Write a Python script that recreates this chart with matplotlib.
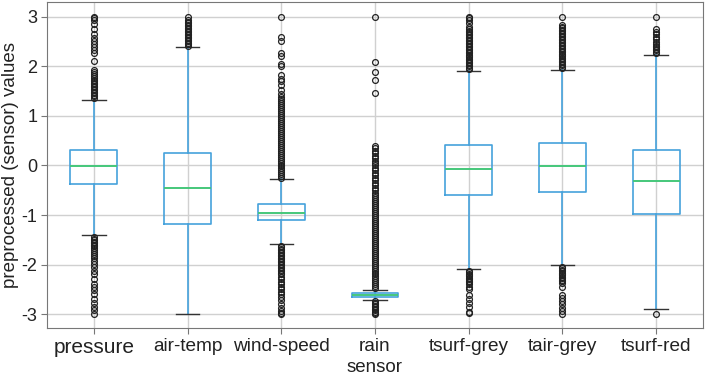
import matplotlib
matplotlib.use("Agg")
import matplotlib.pyplot as plt

plt.rcParams['font.family'] = ['Liberation Sans', 'DejaVu Sans']

sensors = ["pressure", "air-temp", "wind-speed", "rain", "tsurf-grey", "tair-grey", "tsurf-red"]
q1 = [-0.37, -1.18, -1.10, -2.65, -0.60, -0.54, -0.98]
median = [-0.02, -0.46, -0.955, -2.62, -0.07, -0.02, -0.31]
q3 = [0.32, 0.26, -0.77, -2.58, 0.41, 0.45, 0.31]
whisker_low = [-1.41, -3.0, -1.59, -2.71, -2.09, -2.01, -2.90]
whisker_high = [1.32, 2.39, -0.28, -2.52, 1.91, 1.93, 2.24]

fliers_pressure = [1.37, 1.40, 1.43, 1.46, 1.49, 1.52, 1.55, 1.58, 1.61, 1.64, 1.67, 1.70, 1.73, 1.76, 1.80, 1.84,
                   1.88, 1.93, 2.10, 2.28, 2.33, 2.40, 2.45, 2.52, 2.58, 2.65, 2.75, 2.85, 2.93, 2.97, 3.0,
                   -1.45, -1.48, -1.51, -1.54, -1.57, -1.60, -1.63, -1.66, -1.70, -1.74, -1.78, -1.82, -1.86,
                   -1.92, -1.98, -2.05, -2.12, -2.20, -2.30, -2.40, -2.45, -2.52, -2.60, -2.70, -2.78, -2.85,
                   -2.92, -3.0]
fliers_airtemp = [2.42, 2.45, 2.48, 2.51, 2.54, 2.57, 2.60, 2.63, 2.66, 2.69, 2.72, 2.75, 2.78, 2.81, 2.84,
                  2.87, 2.90, 2.93, 3.0]
fliers_windspeed = [-0.26, -0.22, -0.18, -0.14, -0.10, -0.06, -0.02, 0.02, 0.06, 0.10, 0.14, 0.18, 0.22, 0.26,
                    0.30, 0.34, 0.38, 0.42, 0.46, 0.50, 0.54, 0.58, 0.62, 0.66, 0.70, 0.74, 0.78, 0.82, 0.86,
                    0.90, 0.94, 0.98, 1.02, 1.06, 1.10, 1.14, 1.18, 1.22, 1.26, 1.30, 1.34, 1.38, 1.45, 1.52,
                    1.62, 1.70, 1.75, 1.82, 2.00, 2.05, 2.20, 2.28, 2.52, 2.60, 3.0,
                    -1.62, -1.65, -1.68, -1.71, -1.74, -1.77, -1.80, -1.83, -1.86, -1.89, -1.92, -1.95, -1.98,
                    -2.01, -2.04, -2.07, -2.10, -2.13, -2.16, -2.20, -2.25, -2.30, -2.35, -2.40, -2.45, -2.50,
                    -2.55, -2.60, -2.65, -2.72, -2.80, -2.88, -2.94, -2.98, -3.0]
fliers_rain = [-2.48, -2.44, -2.40, -2.36, -2.32, -2.28, -2.24, -2.20, -2.16, -2.12, -2.08, -2.04, -2.00, -1.96,
               -1.92, -1.88, -1.84, -1.80, -1.76, -1.72, -1.68, -1.64, -1.60, -1.56, -1.52, -1.48, -1.44, -1.40,
               -1.36, -1.32, -1.28, -1.24, -1.20, -1.16, -1.12, -1.08, -1.04, -1.00, -0.96, -0.92, -0.88, -0.84,
               -0.80, -0.76, -0.72, -0.68, -0.64, -0.60, -0.55, -0.50, -0.45, -0.40, -0.35, -0.30, -0.25,
               -0.20, -0.15, -0.10, -0.05, 0.00, 0.05, 0.10, 0.15, 0.20, 0.25, 0.30, 0.35, 0.40,
               1.47, 1.72, 1.88, 2.09, 3.0,
               -2.74, -2.77, -2.80, -2.83, -2.86, -2.89, -2.92, -2.95, -2.98, -3.0]
fliers_tsurfgrey = [1.94, 1.97, 2.00, 2.03, 2.06, 2.09, 2.12, 2.15, 2.18, 2.21, 2.24, 2.27, 2.30, 2.33, 2.36,
                    2.39, 2.42, 2.45, 2.48, 2.51, 2.54, 2.57, 2.60, 2.63, 2.66, 2.69, 2.72, 2.75, 2.80, 2.87,
                    2.93, 2.97, 3.0,
                    -2.12, -2.15, -2.18, -2.21, -2.24, -2.27, -2.30, -2.33, -2.36, -2.40, -2.45, -2.50,
                    -2.62, -2.70, -2.78, -2.85, -2.95, -2.98]
fliers_tairgrey = [1.96, 1.99, 2.02, 2.05, 2.08, 2.11, 2.14, 2.17, 2.20, 2.23, 2.26, 2.29, 2.32, 2.35, 2.38,
                   2.41, 2.44, 2.47, 2.50, 2.53, 2.56, 2.59, 2.62, 2.65, 2.68, 2.71, 2.74, 2.77, 2.80, 2.83, 3.0,
                   -2.04, -2.07, -2.10, -2.13, -2.16, -2.19, -2.22, -2.25, -2.28, -2.31, -2.34, -2.38, -2.45,
                   -2.62, -2.68, -2.74, -2.80, -2.87, -2.94, -3.0]
fliers_tsurfred = [2.27, 2.30, 2.33, 2.36, 2.39, 2.42, 2.46, 2.50, 2.55, 2.60, 2.65, 2.70, 2.75, 3.0, -3.0]

fliers = [fliers_pressure, fliers_airtemp, fliers_windspeed, fliers_rain,
          fliers_tsurfgrey, fliers_tairgrey, fliers_tsurfred]

stats = []
for i, name in enumerate(sensors):
    stats.append(dict(label=name, q1=q1[i], med=median[i], q3=q3[i],
                      whislo=whisker_low[i], whishi=whisker_high[i], fliers=fliers[i]))

fig = plt.figure(figsize=(7.06, 3.78), dpi=100)
ax = fig.add_axes([47/706, 1 - 328/378, (703 - 47)/706, (328 - 2)/378])

blue = '#45a2dc'
green = '#45c77a'
ax.bxp(stats, positions=list(range(1, len(sensors) + 1)), widths=0.5,
       boxprops=dict(color=blue, linewidth=1.2),
       whiskerprops=dict(color=blue, linewidth=1.2),
       capprops=dict(color='#333333', linewidth=1.0),
       medianprops=dict(color=green, linewidth=1.4),
       flierprops=dict(marker='o', markerfacecolor='none', markeredgecolor='#222222',
                       markersize=4.2, markeredgewidth=0.9))

ax.set_ylim(-3.28, 3.3)
ax.set_xlim(0.5, 7.5)
ax.set_yticks([-3, -2, -1, 0, 1, 2, 3])
ax.set_yticklabels(['-3', '-2', '-1', '0', '1', '2', '3'], fontsize=13)
ax.set_xticks(list(range(1, len(sensors) + 1)))
ax.set_xticklabels(sensors, fontsize=13.7)
ax.get_xticklabels()[0].set_fontsize(15)
ax.grid(True, color='#d0d0d0', linewidth=1.0)
ax.set_axisbelow(True)
for s in ax.spines.values():
    s.set_color('#777777')
ax.tick_params(axis='both', colors='#777777', labelcolor='#222222', length=4, pad=3)
ax.set_xlabel('sensor', fontsize=13.5, color='#222222', labelpad=2)
ax.set_ylabel('preprocessed (sensor) values', fontsize=13.5, color='#222222')
ax.yaxis.set_label_coords(-0.043, 0.5)

fig.savefig('out.png', dpi=100)
